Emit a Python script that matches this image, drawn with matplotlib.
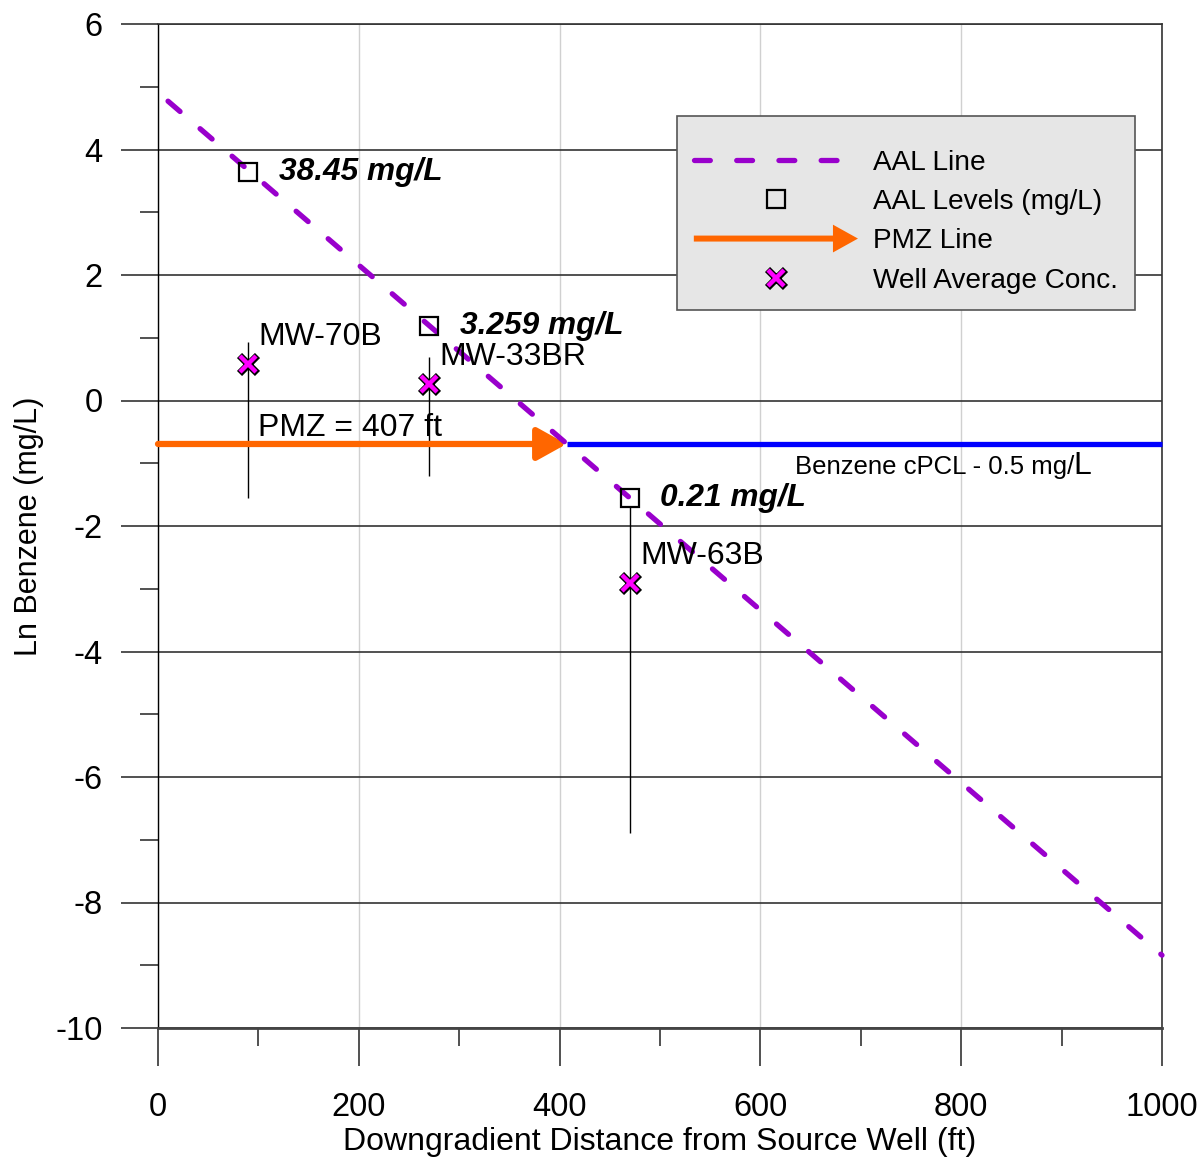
import numpy as np
import matplotlib
matplotlib.use('Agg')
import matplotlib.pyplot as plt
from matplotlib.lines import Line2D
from matplotlib.patches import FancyArrow, Patch
from matplotlib.legend_handler import HandlerPatch, HandlerTuple
from matplotlib.offsetbox import TextArea, HPacker, AnnotationBbox
from matplotlib.ticker import MultipleLocator

plt.rcParams['font.family'] = ['Liberation Sans', 'DejaVu Sans']
plt.rcParams['axes.unicode_minus'] = False

# ---------------- data ----------------
aal_line_x = [10, 1000]
aal_line_y = [4.77, -8.84]

aal_x = [90, 270, 470]
aal_ln = [3.649, 1.181, -1.561]
aal_labels = ['38.45 mg/L', '3.259 mg/L', '0.21 mg/L']

wells = ['MW-70B', 'MW-33BR', 'MW-63B']
well_x = [90, 270, 470]
well_ln = [0.58, 0.26, -2.91]
well_hi = [0.93, 0.69, -1.70]
well_lo = [-1.55, -1.20, -6.89]

pmz_ft = 407
cpcl_ln = -0.693
x_end = 1000

xticks = [0, 200, 400, 600, 800, 1000]
yticks = [-10, -8, -6, -4, -2, 0, 2, 4, 6]

PURPLE = '#9900CC'
ORANGE = '#FF6600'
BLUE = '#0000FF'
MAGENTA = '#FF00FF'

W, H = 1202, 1158
fig = plt.figure(figsize=(W / 100, H / 100), dpi=100)
ax = fig.add_axes([158 / W, 1 - 1028 / H, 1004 / W, 1004 / H])

ax.set_xlim(0, 1000)
ax.set_ylim(-10, 6)

# grid
ax.set_axisbelow(True)
ax.yaxis.grid(True, which='major', color='#333333', lw=1.2)
ax.xaxis.grid(True, which='major', color='#d0d0d0', lw=1)

# error bars
ax.vlines(well_x, well_lo, well_hi, color='black', lw=1, zorder=2)

# cPCL line
ax.plot([pmz_ft, x_end], [cpcl_ln, cpcl_ln], color=BLUE, lw=3.8, zorder=3,
        solid_capstyle='butt', clip_on=False)

# PMZ arrow
ax.annotate('', xy=(pmz_ft, cpcl_ln), xytext=(0, cpcl_ln),
            arrowprops=dict(arrowstyle='-|>,head_length=0.9,head_width=0.5',
                            color=ORANGE, lw=4.5, shrinkA=0, shrinkB=0,
                            mutation_scale=20, capstyle='round'),
            zorder=4, annotation_clip=False)

# AAL line
ax.plot(aal_line_x, aal_line_y, color=PURPLE, lw=3.8, dashes=(3, 5),
        dash_capstyle='round', zorder=5, clip_on=False)

# AAL squares
ax.plot(aal_x, aal_ln, ls='none', marker='s', ms=13, mfc='none', mec='black',
        mew=1.6, zorder=6)

# well markers (outlined x)
X_OUT = dict(ls='none', marker='x', ms=13, mew=5.2, color='black')
X_IN = dict(ls='none', marker='x', ms=12, mew=3.2, color=MAGENTA)
ax.plot(well_x, well_ln, zorder=7, **X_OUT)
ax.plot(well_x, well_ln, zorder=7.1, **X_IN)

for x, y, t in zip(aal_x, aal_ln, aal_labels):
    ax.annotate(t, (x, y), xytext=(22, 0), textcoords='offset points',
                fontsize=22.8, fontweight='bold', fontstyle='italic',
                va='center', ha='left', zorder=8)
for x, y, t in zip(well_x, well_ln, wells):
    ax.annotate(t, (x, y), xytext=(7.2, 19.5), textcoords='offset points',
                fontsize=23, va='center', ha='left', zorder=8)

ax.annotate(f'PMZ = {pmz_ft} ft', (100, cpcl_ln), xytext=(0, 11.5),
            textcoords='offset points', fontsize=23, va='center', ha='left')

cpcl_box = HPacker(children=[
    TextArea('Benzene cPCL - 0.5 mg/', textprops=dict(fontsize=18.5)),
    TextArea('L', textprops=dict(fontsize=23)),
], align='baseline', pad=0, sep=0)
ab = AnnotationBbox(cpcl_box, (634, cpcl_ln), xybox=(0, -16),
                    xycoords='data', boxcoords='offset points',
                    box_alignment=(0, 0.5), frameon=False, pad=0)
ax.add_artist(ab)

# ticks
ax.set_xticks(xticks)
ax.set_yticks(yticks)
ax.xaxis.set_minor_locator(MultipleLocator(100))
ax.yaxis.set_minor_locator(MultipleLocator(1))
ax.tick_params(which='major', direction='out', length=27, width=1.2,
               color='#333333', labelsize=23.5)
ax.tick_params(axis='y', which='major', pad=13)
ax.tick_params(axis='x', which='major', pad=19)
ax.tick_params(which='minor', direction='out', length=13, width=1.2,
               color='#333333')

for s in ['top', 'right']:
    ax.spines[s].set_color('#333333')
    ax.spines[s].set_linewidth(1.2)
ax.spines['left'].set_color('black')
ax.spines['left'].set_linewidth(1)
ax.spines['bottom'].set_color('#444444')
ax.spines['bottom'].set_linewidth(2)

ax.set_xlabel('Downgradient Distance from Source Well (ft)', fontsize=23)
ax.xaxis.set_label_coords(0.5, (1028 - 1127) / 1004)
ax.set_ylabel('Ln Benzene (mg/L)', fontsize=22)
ax.yaxis.set_label_coords((44 - 158) / 1004, 0.5)


class HandlerArrow(HandlerPatch):
    def create_artists(self, legend, orig_handle, xdescent, ydescent, width,
                       height, fontsize, trans):
        p = FancyArrow(-xdescent, -ydescent + height / 2, width, 0,
                       width=4.3, head_width=20, head_length=18,
                       length_includes_head=True, color=ORANGE, lw=0)
        p.set_transform(trans)
        return [p]


handles = [
    Line2D([], [], color=PURPLE, lw=3.8, dashes=(3, 5), dash_capstyle='round'),
    Line2D([], [], ls='none', marker='s', ms=13, mfc='none', mec='black', mew=1.6),
    Patch(color=ORANGE),
    (Line2D([], [], **X_OUT), Line2D([], [], **X_IN)),
]
labels = ['AAL Line', 'AAL Levels (mg/L)', 'PMZ Line', 'Well Average Conc.']
leg = ax.legend(handles, labels, loc='upper left',
                bbox_to_anchor=((677 - 158) / 1004, (1028 - 116) / 1004),
                borderaxespad=0, fontsize=20.2, handlelength=5.85,
                handletextpad=0.55, labelspacing=0.47, borderpad=0.6,
                title=' ', title_fontsize=2.2,
                numpoints=1, fancybox=False, frameon=True,
                handler_map={Patch: HandlerArrow(),
                             tuple: HandlerTuple(ndivide=1, pad=0)})
leg.get_frame().set_facecolor('#e6e6e6')
leg.get_frame().set_edgecolor('#555555')
leg.get_frame().set_linewidth(1.2)
leg.get_frame().set_alpha(1)
leg.set_zorder(10)

fig.savefig('out.png', dpi=100)
